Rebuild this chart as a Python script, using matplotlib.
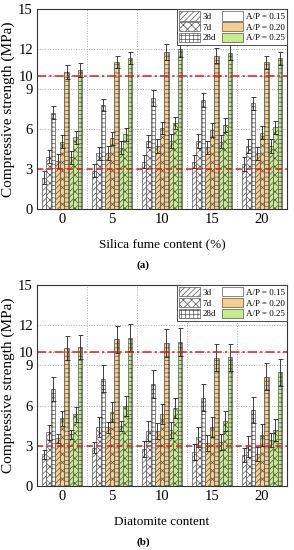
import numpy as np
import matplotlib
matplotlib.use("Agg")
import matplotlib.pyplot as plt
from matplotlib.patches import Patch

plt.rcParams['font.family'] = ['Liberation Serif', 'DejaVu Serif']
plt.rcParams['hatch.color'] = '#555555'
plt.rcParams['hatch.linewidth'] = 0.5

groups = ['0', '5', '10', '15', '20']
ages = ['3d', '7d', '28d']
ratios = ['A/P = 0.15', 'A/P = 0.20', 'A/P = 0.25']

# (a) silica fume, values [ratio][age] over 5 groups
sf_015_3d = [2.35, 2.87, 3.55, 3.55, 3.37]
sf_015_7d = [3.92, 4.17, 5.12, 5.10, 4.72]
sf_015_28d = [7.22, 7.78, 8.30, 8.17, 7.93]
sf_020_3d = [3.60, 4.20, 4.72, 4.62, 4.17]
sf_020_7d = [5.05, 5.30, 6.10, 5.93, 5.73]
sf_020_28d = [10.28, 11.00, 11.75, 11.50, 11.00]
sf_025_3d = [3.88, 4.60, 5.10, 5.05, 4.72]
sf_025_7d = [5.38, 5.60, 6.42, 6.30, 6.13]
sf_025_28d = [10.43, 11.30, 12.00, 11.73, 11.30]

sf_err_3d = [0.5, 0.5, 0.5, 0.5, 0.5]
sf_err_7d = [0.5, 0.5, 0.45, 0.5, 0.5]
sf_err_28d = [0.5, 0.45, 0.6, 0.55, 0.5]

# (b) diatomite
dt_015_3d = [2.36, 2.86, 2.74, 2.51, 2.31]
dt_015_7d = [4.00, 4.38, 4.13, 3.63, 2.95]
dt_015_28d = [7.24, 7.99, 7.59, 6.59, 5.67]
dt_020_3d = [3.56, 4.38, 4.13, 3.19, 2.40]
dt_020_7d = [5.05, 5.55, 5.37, 4.43, 3.80]
dt_020_28d = [10.28, 10.95, 10.65, 9.58, 8.16]
dt_025_3d = [3.86, 4.48, 4.18, 3.31, 3.43]
dt_025_7d = [5.35, 5.99, 5.80, 4.85, 4.18]
dt_025_28d = [10.40, 11.07, 10.72, 9.60, 8.48]

dt_err_3d = [0.35, 0.4, 0.6, 0.6, 0.5]
dt_err_7d = [0.55, 0.75, 0.75, 0.75, 0.8]
dt_err_28d = [0.9, 1.0, 1.05, 1.0, 1.0]

colors = ['white', '#F5D08C', '#C8EC8C']
hatches = ['//////', 'xxxx', '++++']

panels = [
    ([[sf_015_3d, sf_015_7d, sf_015_28d],
      [sf_020_3d, sf_020_7d, sf_020_28d],
      [sf_025_3d, sf_025_7d, sf_025_28d]],
     [sf_err_3d, sf_err_7d, sf_err_28d], 'Silica fume content (%)', '(a)'),
    ([[dt_015_3d, dt_015_7d, dt_015_28d],
      [dt_020_3d, dt_020_7d, dt_020_28d],
      [dt_025_3d, dt_025_7d, dt_025_28d]],
     [dt_err_3d, dt_err_7d, dt_err_28d], 'Diatomite content', '(b)'),
]

fig = plt.figure(figsize=(2.94, 5.5), dpi=100)
axes = [fig.add_axes([0.126, 0.62, 0.850, 0.3636]),
        fig.add_axes([0.126, 0.1164, 0.850, 0.3655])]
label_y = [0.509, 0.006]

x = np.arange(len(groups))
w = 0.09
for k, (ax, (vals, errs, xlabel, tag)) in enumerate(zip(axes, panels)):
    ax.set_axisbelow(True)
    i = 0
    for r in range(3):
        for a in range(3):
            off = (i - 4) * w
            ax.bar(x + off, vals[r][a], w, color=colors[r], hatch=hatches[a],
                   edgecolor='#555555', linewidth=0.5,
                   yerr=errs[a], capsize=1.8,
                   error_kw=dict(elinewidth=0.6, capthick=0.6, ecolor='#222222'))
            i += 1
    ax.axhline(10, color='#E8161B', lw=1.1, ls=(0, (6, 2, 1.5, 2)))
    ax.axhline(3, color='#E8161B', lw=1.1, ls=(0, (4, 2.5)))
    ax.set_xlim(-0.5, 4.5)
    ax.set_ylim(0, 15)
    ax.set_yticks([0, 3, 6, 9, 10, 12, 15])
    ax.set_xticks(x)
    ax.set_xticklabels(groups)
    ax.set_xticks([0.5, 1.5, 2.5, 3.5], minor=True)
    ax.grid(axis='y', which='major', color='#aaaaaa', ls=':', lw=0.7)
    ax.grid(axis='x', which='minor', color='#aaaaaa', ls=':', lw=0.7)
    ax.tick_params(axis='both', which='major', labelsize=10.5, length=0, pad=3)
    ax.tick_params(axis='x', which='minor', length=0)
    for s in ax.spines.values():
        s.set_linewidth(0.8)
        s.set_color('#333333')
    ax.set_ylabel('Compressive strength (MPa)', fontsize=11, labelpad=2)
    ax.set_xlabel(xlabel, fontsize=9.5, labelpad=9)

    handles = [Patch(facecolor='white', edgecolor='#555555', hatch=hatches[0], lw=0.5, label='3d'),
               Patch(facecolor='white', edgecolor='#555555', hatch=hatches[1], lw=0.5, label='7d'),
               Patch(facecolor='white', edgecolor='#555555', hatch=hatches[2], lw=0.5, label='28d'),
               Patch(facecolor=colors[0], edgecolor='#555555', lw=0.5, label=ratios[0]),
               Patch(facecolor=colors[1], edgecolor='#555555', lw=0.5, label=ratios[1]),
               Patch(facecolor=colors[2], edgecolor='#555555', lw=0.5, label=ratios[2])]
    leg = ax.legend(handles=handles, ncol=2, loc='upper right', fontsize=6.5,
                    frameon=True, fancybox=False, edgecolor='#333333', framealpha=1,
                    borderaxespad=0.0, handlelength=2.3, handleheight=1.2,
                    labelspacing=0.12, columnspacing=0.6, handletextpad=0.35,
                    borderpad=0.25)
    leg.get_frame().set_linewidth(0.6)
    fig.text(0.488, label_y[k], tag, ha='center', va='bottom', fontsize=8, fontweight='bold')

fig.savefig('out.png', dpi=100)
